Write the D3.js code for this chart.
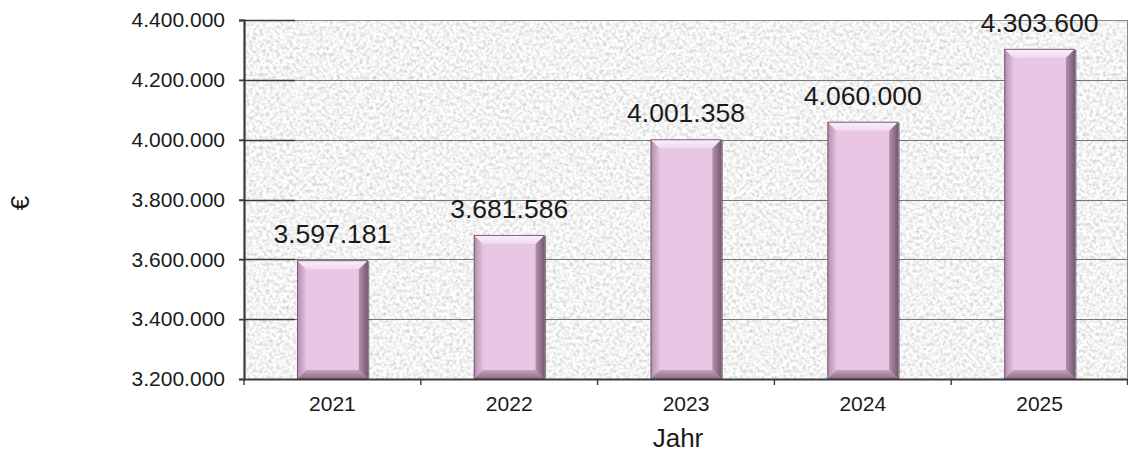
<!DOCTYPE html>
<html>
<head>
<meta charset="utf-8">
<script src="https://cdn.jsdelivr.net/npm/d3@7"></script>
<style>
  html, body { margin: 0; padding: 0; background: #ffffff; }
  svg { display: block; font-family: "Liberation Sans", Arial, sans-serif; }
</style>
</head>
<body>
<svg id="chart" width="1128" height="452"></svg>
<script>
// Jahreswerte in Euro
const years = ["2021", "2022", "2023", "2024", "2025"];
const amounts = [3597181, 3681586, 4001358, 4060000, 4303600];
const yTickValues = [3200000, 3400000, 3600000, 3800000, 4000000, 4200000, 4400000];
const xTitle = "Jahr";
const yTitle = "€";

const W = 1128, H = 452;
const plot = { left: 244, right: 1128, top: 20, bottom: 379 };

const de = d3.formatLocale({ decimal: ",", thousands: ".", grouping: [3], currency: ["", " €"] });
const fmt = de.format(",d");

const svg = d3.select("#chart");
const defs = svg.append("defs");

// granite-like texture for the plot background
const granite = defs.append("filter").attr("id", "granite")
  .attr("x", 0).attr("y", 0).attr("width", 1).attr("height", 1);
granite.append("feTurbulence")
  .attr("type", "fractalNoise").attr("baseFrequency", 0.3)
  .attr("numOctaves", 3).attr("seed", 7).attr("result", "noise");
granite.append("feColorMatrix").attr("in", "noise").attr("type", "matrix")
  .attr("values", "0.75 0 0 0 0.52  0.75 0 0 0 0.52  0.75 0 0 0 0.52  0 0 0 0 1");

// bevel gradients
function grad(id, x2, y2, stops) {
  const g = defs.append("linearGradient").attr("id", id)
    .attr("x1", 0).attr("y1", 0).attr("x2", x2).attr("y2", y2);
  stops.forEach(([o, c]) => g.append("stop").attr("offset", o).attr("stop-color", c));
}
grad("bevLeft", 1, 0, [[0, "#b08cab"], [1, "#e2c0de"]]);
grad("bevRight", 1, 0, [[0, "#b391ae"], [1, "#765872"]]);
grad("bevTop", 0, 1, [[0, "#fcf0fa"], [1, "#f0d8ed"]]);
grad("bevBottom", 0, 1, [[0, "#c5a2c0"], [1, "#8a6b86"]]);

const x = d3.scaleBand().domain(years).range([plot.left, plot.right])
  .paddingInner(0.6).paddingOuter(0.3);
const xCat = d3.scaleBand().domain(years).range([plot.left, plot.right]).padding(0);
const y = d3.scaleLinear().domain([3200000, 4400000]).range([plot.bottom, plot.top]);

// background
svg.append("rect")
  .attr("x", plot.left).attr("y", plot.top)
  .attr("width", plot.right - plot.left).attr("height", plot.bottom - plot.top)
  .attr("fill", "#e4e4e4").attr("filter", "url(#granite)");

// gridlines
const grid = svg.append("g");
grid.selectAll("line.g").data(yTickValues.slice(1)).join("line")
  .attr("class", "g")
  .attr("x1", plot.left).attr("x2", plot.right)
  .attr("y1", d => Math.round(y(d)) + 0.5).attr("y2", d => Math.round(y(d)) + 0.5)
  .attr("stroke", d => d === 4400000 ? "#8a8a8a" : "#777777").attr("stroke-width", 1.2);
grid.selectAll("line.s").data(yTickValues.slice(1)).join("line")
  .attr("class", "s")
  .attr("x1", plot.left - 5).attr("x2", x(years[0]) - 2)
  .attr("y1", d => Math.round(y(d)) + 0.5).attr("y2", d => Math.round(y(d)) + 0.5)
  .attr("stroke", "#3a3a3a").attr("stroke-width", 1.4);
svg.append("line")
  .attr("x1", plot.right - 0.5).attr("x2", plot.right - 0.5)
  .attr("y1", plot.top).attr("y2", plot.bottom)
  .attr("stroke", "#8a8a8a");

// bars with bevelled edges
const b = 9;
const bars = svg.append("g").selectAll("g").data(years.map((yr, i) => ({ yr, v: amounts[i] })))
  .join("g");
bars.each(function (d) {
  const g = d3.select(this);
  const x0 = x(d.yr), x1 = x0 + x.bandwidth();
  const t = y(d.v), bt = y(3200000);
  const pts = a => a.map(p => p.join(",")).join(" ");
  g.append("rect").attr("x", x0 + 1.5).attr("y", t + 1).attr("width", x1 - x0).attr("height", bt - t)
    .attr("fill", "#4a3848").attr("opacity", 0.6);
  g.append("rect").attr("x", x0).attr("y", t).attr("width", x1 - x0).attr("height", bt - t)
    .attr("fill", "#e8c6e4");
  g.append("polygon").attr("points", pts([[x0, t], [x0 + b, t + b], [x0 + b, bt - b], [x0, bt]]))
    .attr("fill", "url(#bevLeft)");
  g.append("polygon").attr("points", pts([[x1, t], [x1 - b, t + b], [x1 - b, bt - b], [x1, bt]]))
    .attr("fill", "url(#bevRight)");
  g.append("polygon").attr("points", pts([[x0, t], [x1, t], [x1 - b, t + b], [x0 + b, t + b]]))
    .attr("fill", "url(#bevTop)");
  g.append("polygon").attr("points", pts([[x0, bt], [x1, bt], [x1 - b, bt - b], [x0 + b, bt - b]]))
    .attr("fill", "url(#bevBottom)");
  g.append("rect").attr("x", x0 + 0.5).attr("y", t + 0.5).attr("width", x1 - x0 - 1).attr("height", bt - t - 1)
    .attr("fill", "none").attr("stroke", "#7a5d76").attr("stroke-width", 1);
});

// value labels
svg.append("g").selectAll("text").data(amounts).join("text")
  .attr("x", (d, i) => x(years[i]) + x.bandwidth() / 2)
  .attr("y", d => y(d) - 17)
  .attr("text-anchor", "middle")
  .attr("font-size", 26.5).attr("fill", "#1a1a1a")
  .text(d => fmt(d));

// y axis
const yAxis = svg.append("g").attr("transform", `translate(${plot.left},0)`)
  .call(d3.axisLeft(y).tickValues(yTickValues).tickFormat(fmt).tickSize(5).tickPadding(14));
yAxis.select(".domain").attr("stroke", "#3a3a3a").attr("stroke-width", 2.2);
yAxis.selectAll(".tick line").attr("stroke", "#3a3a3a").attr("stroke-width", 1.4);
yAxis.selectAll(".tick text").attr("font-size", 21).attr("fill", "#1a1a1a")
  .attr("font-family", "Liberation Sans, Arial, sans-serif");

// x axis
const xAxis = svg.append("g").attr("transform", `translate(0,${plot.bottom})`)
  .call(d3.axisBottom(xCat).tickSize(0).tickPadding(17).tickSizeOuter(0));
xAxis.select(".domain").attr("stroke", "#3a3a3a").attr("stroke-width", 2.2);
xAxis.selectAll(".tick text").attr("font-size", 21).attr("fill", "#1a1a1a")
  .attr("font-family", "Liberation Sans, Arial, sans-serif");
svg.append("g").selectAll("line").data(years.concat(["end"])).join("line")
  .attr("x1", d => d === "end" ? plot.right - 0.5 : xCat(d))
  .attr("x2", d => d === "end" ? plot.right - 0.5 : xCat(d))
  .attr("y1", plot.bottom).attr("y2", plot.bottom + 6)
  .attr("stroke", "#3a3a3a").attr("stroke-width", 1.4);

// axis titles
svg.append("text").attr("x", 678).attr("y", 447).attr("text-anchor", "middle")
  .attr("font-size", 26).attr("fill", "#1a1a1a").text(xTitle);
svg.append("text").attr("transform", "translate(29,203) rotate(-90)")
  .attr("text-anchor", "middle").attr("font-size", 26).attr("fill", "#1a1a1a").text(yTitle);
</script>
</body>
</html>
